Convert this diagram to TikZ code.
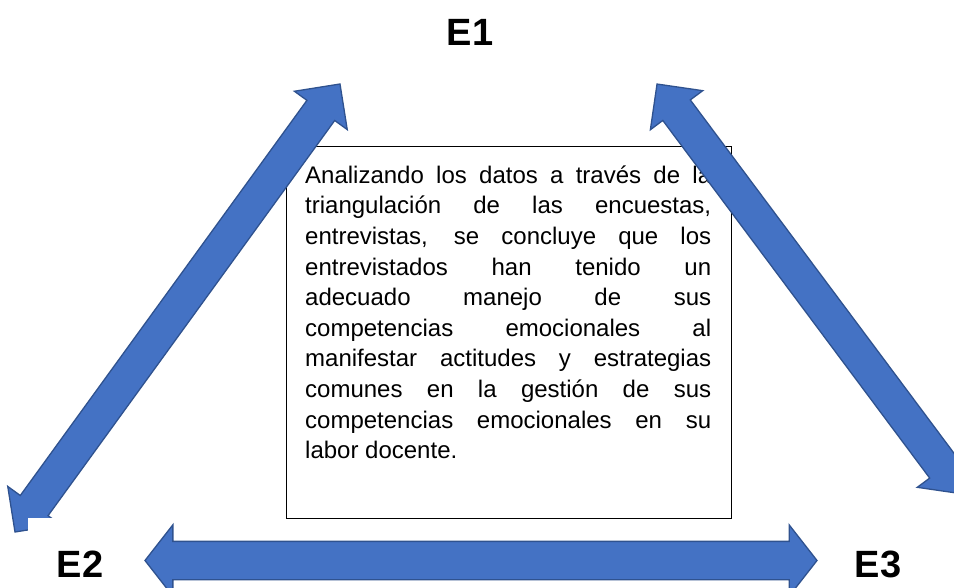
\documentclass[tikz,border=0pt]{standalone}
\usepackage{fontspec}
\setmainfont{Liberation Sans}
\usetikzlibrary{shapes.arrows,calc}
\definecolor{arrowfill}{HTML}{4472C4}
\definecolor{arrowline}{HTML}{2F528F}
\tikzset{
  blockarrow/.style={double arrow, draw=arrowline, fill=arrowfill, line width=1.3pt, inner xsep=0pt, sloped},
  diagarrow/.style={blockarrow, inner ysep=16.5pt, double arrow head extend=15.5pt, double arrow tip angle=90},
  flatarrow/.style={blockarrow, inner ysep=18.5pt, double arrow head extend=16.5pt, double arrow tip angle=104},
  corner/.style={font=\bfseries\fontsize{38}{40}\selectfont, fill=white, inner sep=0pt, text height=59pt, text depth=11pt, minimum width=104pt, anchor=north},
  conclbox/.style={draw, line width=1pt, minimum width=445pt, minimum height=372pt, anchor=north west, inner sep=0pt},
  concltext/.style={text width=406pt, align=justify, inner sep=0pt, anchor=north west, font=\fontsize{24}{30.6}\selectfont}
}
\begin{document}
\begin{tikzpicture}[x=1pt,y=-1pt]
\useasboundingbox (0,0) rectangle (954,588);
% text box in the middle
\node[conclbox] (concl) at (286,146) {};
\node[concltext] (txt) at ($(concl.north west)+(19,15.6)$) {\strut Analizando los datos a través de la\linebreak
triangulación de las encuestas,\linebreak
entrevistas, se concluye que los\linebreak
entrevistados han tenido un\linebreak
adecuado manejo de sus\linebreak
competencias emocionales al\linebreak
manifestar actitudes y estrategias\linebreak
comunes en la gestión de sus\linebreak
competencias emocionales en su\linebreak
labor docente.};
% arrow ends
\coordinate (e1a) at (340,84);
\coordinate (e2a) at (15,532);
\coordinate (e1b) at (657,84);
\coordinate (e3b) at (963,494);
\coordinate (e2c) at (145,560.5);
\coordinate (e3c) at (817,560.5);
% block arrows
\path let \p1=($(e1a)-(e2a)$), \n1={veclen(\x1,\y1)} in (e2a) -- node[diagarrow, minimum height=\n1] {} (e1a);
\path let \p1=($(e3b)-(e1b)$), \n1={veclen(\x1,\y1)} in (e1b) -- node[diagarrow, minimum height=\n1] {} (e3b);
\path let \p1=($(e3c)-(e2c)$), \n1={veclen(\x1,\y1)} in (e2c) -- node[flatarrow, minimum height=\n1] {} (e3c);
% corners
\node[corner] (e1) at (470,-14) {E1};
\node[corner] (e2) at (80,518) {E2};
\node[corner] (e3) at (878,518) {E3};
\end{tikzpicture}
\end{document}
